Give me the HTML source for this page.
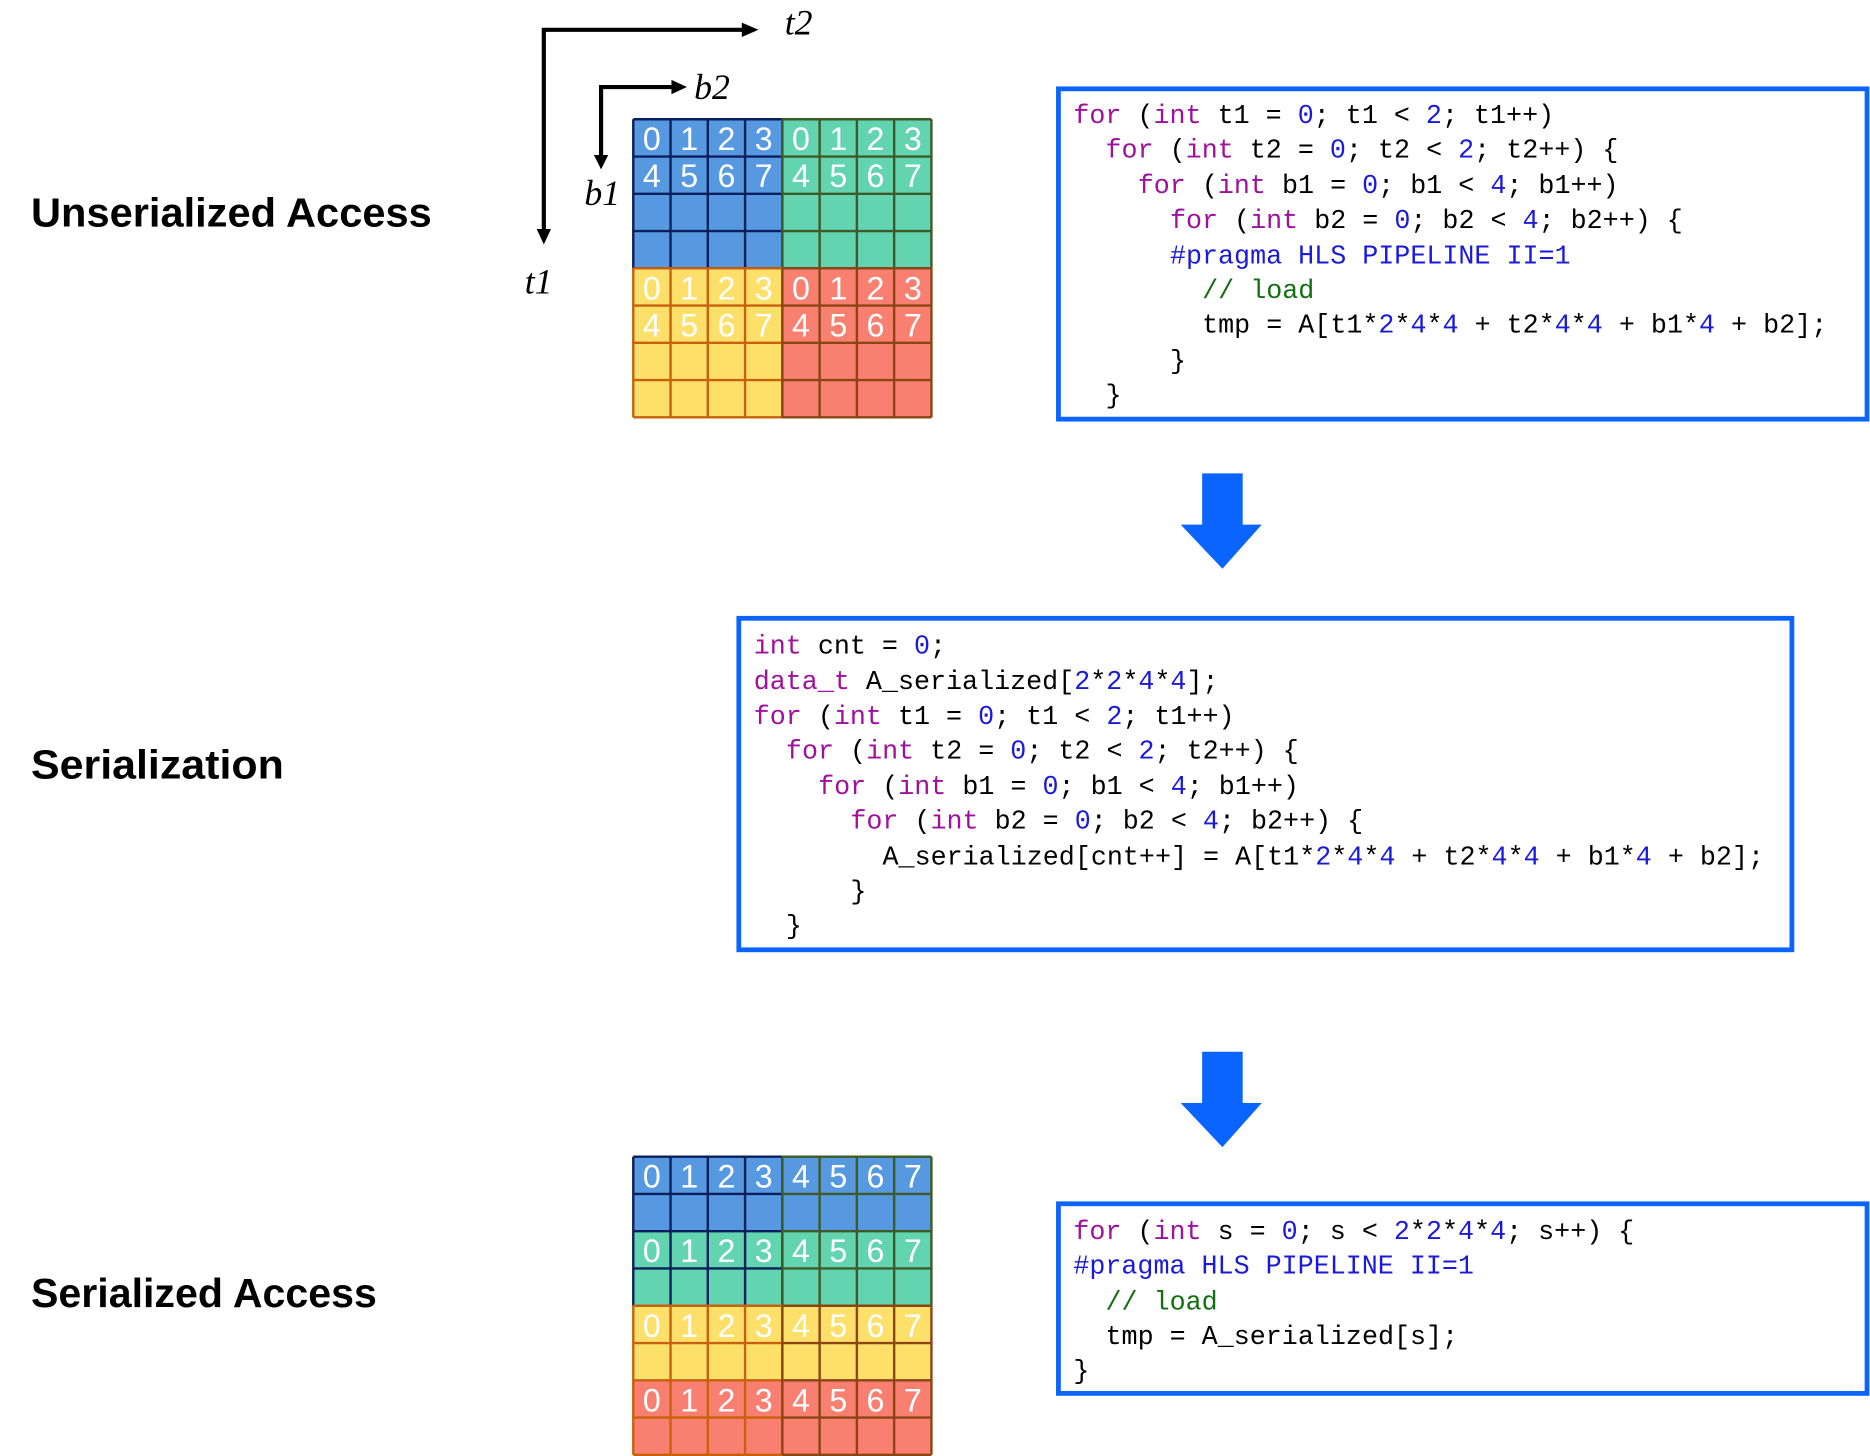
<!DOCTYPE html>
<html><head><meta charset="utf-8"><style>
html,body{margin:0;padding:0;background:#fff;}
svg{display:block;}
.c{font-family:"Liberation Mono",monospace;font-size:22.4px;fill:#000;}
.k{fill:#a0109e;} .n{fill:#1a1ad8;} .g{fill:#107010;}
.lab{font-family:"Liberation Sans",sans-serif;font-weight:bold;font-size:34px;fill:#000;}
.num{font-family:"Liberation Sans",sans-serif;font-size:27px;fill:#fff;text-anchor:middle;}
.it{font-family:"Liberation Serif",serif;font-style:italic;font-size:30px;fill:#000;}
</style></head><body>
<svg width="1870" height="1456" viewBox="0 0 1568 1221" preserveAspectRatio="none" xmlns="http://www.w3.org/2000/svg">
<defs>
<path id="q" d="M0 0V125M31.25 0V125M62.5 0V125M93.75 0V125M125 0V125M0 0H125M0 31.25H125M0 62.5H125M0 93.75H125M0 125H125" fill="none"/>
</defs>
<!-- labels -->
<text class="lab" x="26" y="190" textLength="336" lengthAdjust="spacingAndGlyphs">Unserialized Access</text>
<text class="lab" x="26" y="653" textLength="212" lengthAdjust="spacingAndGlyphs">Serialization</text>
<text class="lab" x="26" y="1096" textLength="290" lengthAdjust="spacingAndGlyphs">Serialized Access</text>

<!-- axes -->
<g stroke="#000" stroke-width="3.5" fill="none">
<path d="M456 195V25H624"/>
<path d="M504 132V73H565"/>
</g>
<g fill="#000">
<polygon points="450,192 462,192 456,205"/>
<polygon points="622,19 622,31 636,25"/>
<polygon points="498,130 510,130 504,142"/>
<polygon points="563,67 563,79 576,73"/>
</g>
<text class="it" x="658" y="29">t2</text>
<text class="it" x="582" y="83">b2</text>
<text class="it" x="490" y="172">b1</text>
<text class="it" x="440" y="246">t1</text>

<!-- grid 1 -->
<rect x="531" y="100" width="125" height="125" fill="#5699e0"/>
<rect x="656" y="100" width="125" height="125" fill="#62d4b0"/>
<rect x="531" y="225" width="125" height="125" fill="#fde06a"/>
<rect x="656" y="225" width="125" height="125" fill="#f98070"/>
<use href="#q" x="531" y="100" stroke="#0a1f5c" stroke-width="2"/>
<use href="#q" x="656" y="100" stroke="#3e5a28" stroke-width="2"/>
<use href="#q" x="531" y="225" stroke="#c8600e" stroke-width="2"/>
<use href="#q" x="656" y="225" stroke="#8b4513" stroke-width="2"/>
<text class="num" x="546.6 577.9 609.1 640.4 671.6 702.9 734.1 765.4" y="126">01230123</text>
<text class="num" x="546.6 577.9 609.1 640.4 671.6 702.9 734.1 765.4" y="157">45674567</text>
<text class="num" x="546.6 577.9 609.1 640.4 671.6 702.9 734.1 765.4" y="251">01230123</text>
<text class="num" x="546.6 577.9 609.1 640.4 671.6 702.9 734.1 765.4" y="282">45674567</text>

<!-- grid 2 -->
<rect x="531" y="970" width="250" height="62.5" fill="#5699e0"/>
<rect x="531" y="1032.5" width="250" height="62.5" fill="#62d4b0"/>
<rect x="531" y="1095" width="250" height="62.5" fill="#fde06a"/>
<rect x="531" y="1157.5" width="250" height="62.5" fill="#f98070"/>
<use href="#q" x="531" y="970" stroke="#0a1f5c" stroke-width="2"/>
<use href="#q" x="656" y="970" stroke="#3e5a28" stroke-width="2"/>
<use href="#q" x="531" y="1095" stroke="#c8600e" stroke-width="2"/>
<use href="#q" x="656" y="1095" stroke="#8b4513" stroke-width="2"/>
<text class="num" x="546.6 577.9 609.1 640.4 671.6 702.9 734.1 765.4" y="996">01234567</text>
<text class="num" x="546.6 577.9 609.1 640.4 671.6 702.9 734.1 765.4" y="1058.5">01234567</text>
<text class="num" x="546.6 577.9 609.1 640.4 671.6 702.9 734.1 765.4" y="1121">01234567</text>
<text class="num" x="546.6 577.9 609.1 640.4 671.6 702.9 734.1 765.4" y="1183.5">01234567</text>

<!-- code box 1 -->
<rect x="887.5" y="74.5" width="678" height="277" fill="none" stroke="#0a64ff" stroke-width="4"/>
<g class="c" xml:space="preserve">
<text x="900" y="103"><tspan class="k">for</tspan> (<tspan class="k">int</tspan> t1 = <tspan class="n">0</tspan>; t1 &lt; <tspan class="n">2</tspan>; t1++)</text>
<text x="927" y="132"><tspan class="k">for</tspan> (<tspan class="k">int</tspan> t2 = <tspan class="n">0</tspan>; t2 &lt; <tspan class="n">2</tspan>; t2++) {</text>
<text x="954" y="162"><tspan class="k">for</tspan> (<tspan class="k">int</tspan> b1 = <tspan class="n">0</tspan>; b1 &lt; <tspan class="n">4</tspan>; b1++)</text>
<text x="981" y="191"><tspan class="k">for</tspan> (<tspan class="k">int</tspan> b2 = <tspan class="n">0</tspan>; b2 &lt; <tspan class="n">4</tspan>; b2++) {</text>
<text x="981" y="221" class="n">#pragma HLS PIPELINE II=1</text>
<text x="1008" y="250" class="g">// load</text>
<text x="1008" y="279">tmp = A[t1*<tspan class="n">2</tspan>*<tspan class="n">4</tspan>*<tspan class="n">4</tspan> + t2*<tspan class="n">4</tspan>*<tspan class="n">4</tspan> + b1*<tspan class="n">4</tspan> + b2];</text>
<text x="981" y="309">}</text>
<text x="927" y="338">}</text>
</g>

<!-- arrow 1 -->
<polygon points="1008,397 1042,397 1042,440 1058,440 1025,477 990,440 1008,440" fill="#0a64ff"/>

<!-- code box 2 -->
<rect x="619.5" y="518.5" width="883" height="278" fill="none" stroke="#0a64ff" stroke-width="4"/>
<g class="c" xml:space="preserve">
<text x="632" y="548"><tspan class="k">int</tspan> cnt = <tspan class="n">0</tspan>;</text>
<text x="632" y="578"><tspan class="k">data_t</tspan> A_serialized[<tspan class="n">2</tspan>*<tspan class="n">2</tspan>*<tspan class="n">4</tspan>*<tspan class="n">4</tspan>];</text>
<text x="632" y="607"><tspan class="k">for</tspan> (<tspan class="k">int</tspan> t1 = <tspan class="n">0</tspan>; t1 &lt; <tspan class="n">2</tspan>; t1++)</text>
<text x="659" y="636"><tspan class="k">for</tspan> (<tspan class="k">int</tspan> t2 = <tspan class="n">0</tspan>; t2 &lt; <tspan class="n">2</tspan>; t2++) {</text>
<text x="686" y="666"><tspan class="k">for</tspan> (<tspan class="k">int</tspan> b1 = <tspan class="n">0</tspan>; b1 &lt; <tspan class="n">4</tspan>; b1++)</text>
<text x="713" y="695"><tspan class="k">for</tspan> (<tspan class="k">int</tspan> b2 = <tspan class="n">0</tspan>; b2 &lt; <tspan class="n">4</tspan>; b2++) {</text>
<text x="740" y="725">A_serialized[cnt++] = A[t1*<tspan class="n">2</tspan>*<tspan class="n">4</tspan>*<tspan class="n">4</tspan> + t2*<tspan class="n">4</tspan>*<tspan class="n">4</tspan> + b1*<tspan class="n">4</tspan> + b2];</text>
<text x="713" y="754">}</text>
<text x="659" y="783">}</text>
</g>

<!-- arrow 2 -->
<polygon points="1008,882 1042,882 1042,925 1058,925 1025,962 990,925 1008,925" fill="#0a64ff"/>

<!-- code box 3 -->
<rect x="887.5" y="1009.5" width="678" height="159" fill="none" stroke="#0a64ff" stroke-width="4"/>
<g class="c" xml:space="preserve">
<text x="900" y="1039"><tspan class="k">for</tspan> (<tspan class="k">int</tspan> s = <tspan class="n">0</tspan>; s &lt; <tspan class="n">2</tspan>*<tspan class="n">2</tspan>*<tspan class="n">4</tspan>*<tspan class="n">4</tspan>; s++) {</text>
<text x="900" y="1068" class="n">#pragma HLS PIPELINE II=1</text>
<text x="927" y="1098" class="g">// load</text>
<text x="927" y="1127">tmp = A_serialized[s];</text>
<text x="900" y="1156">}</text>
</g>
</svg>
</body></html>
